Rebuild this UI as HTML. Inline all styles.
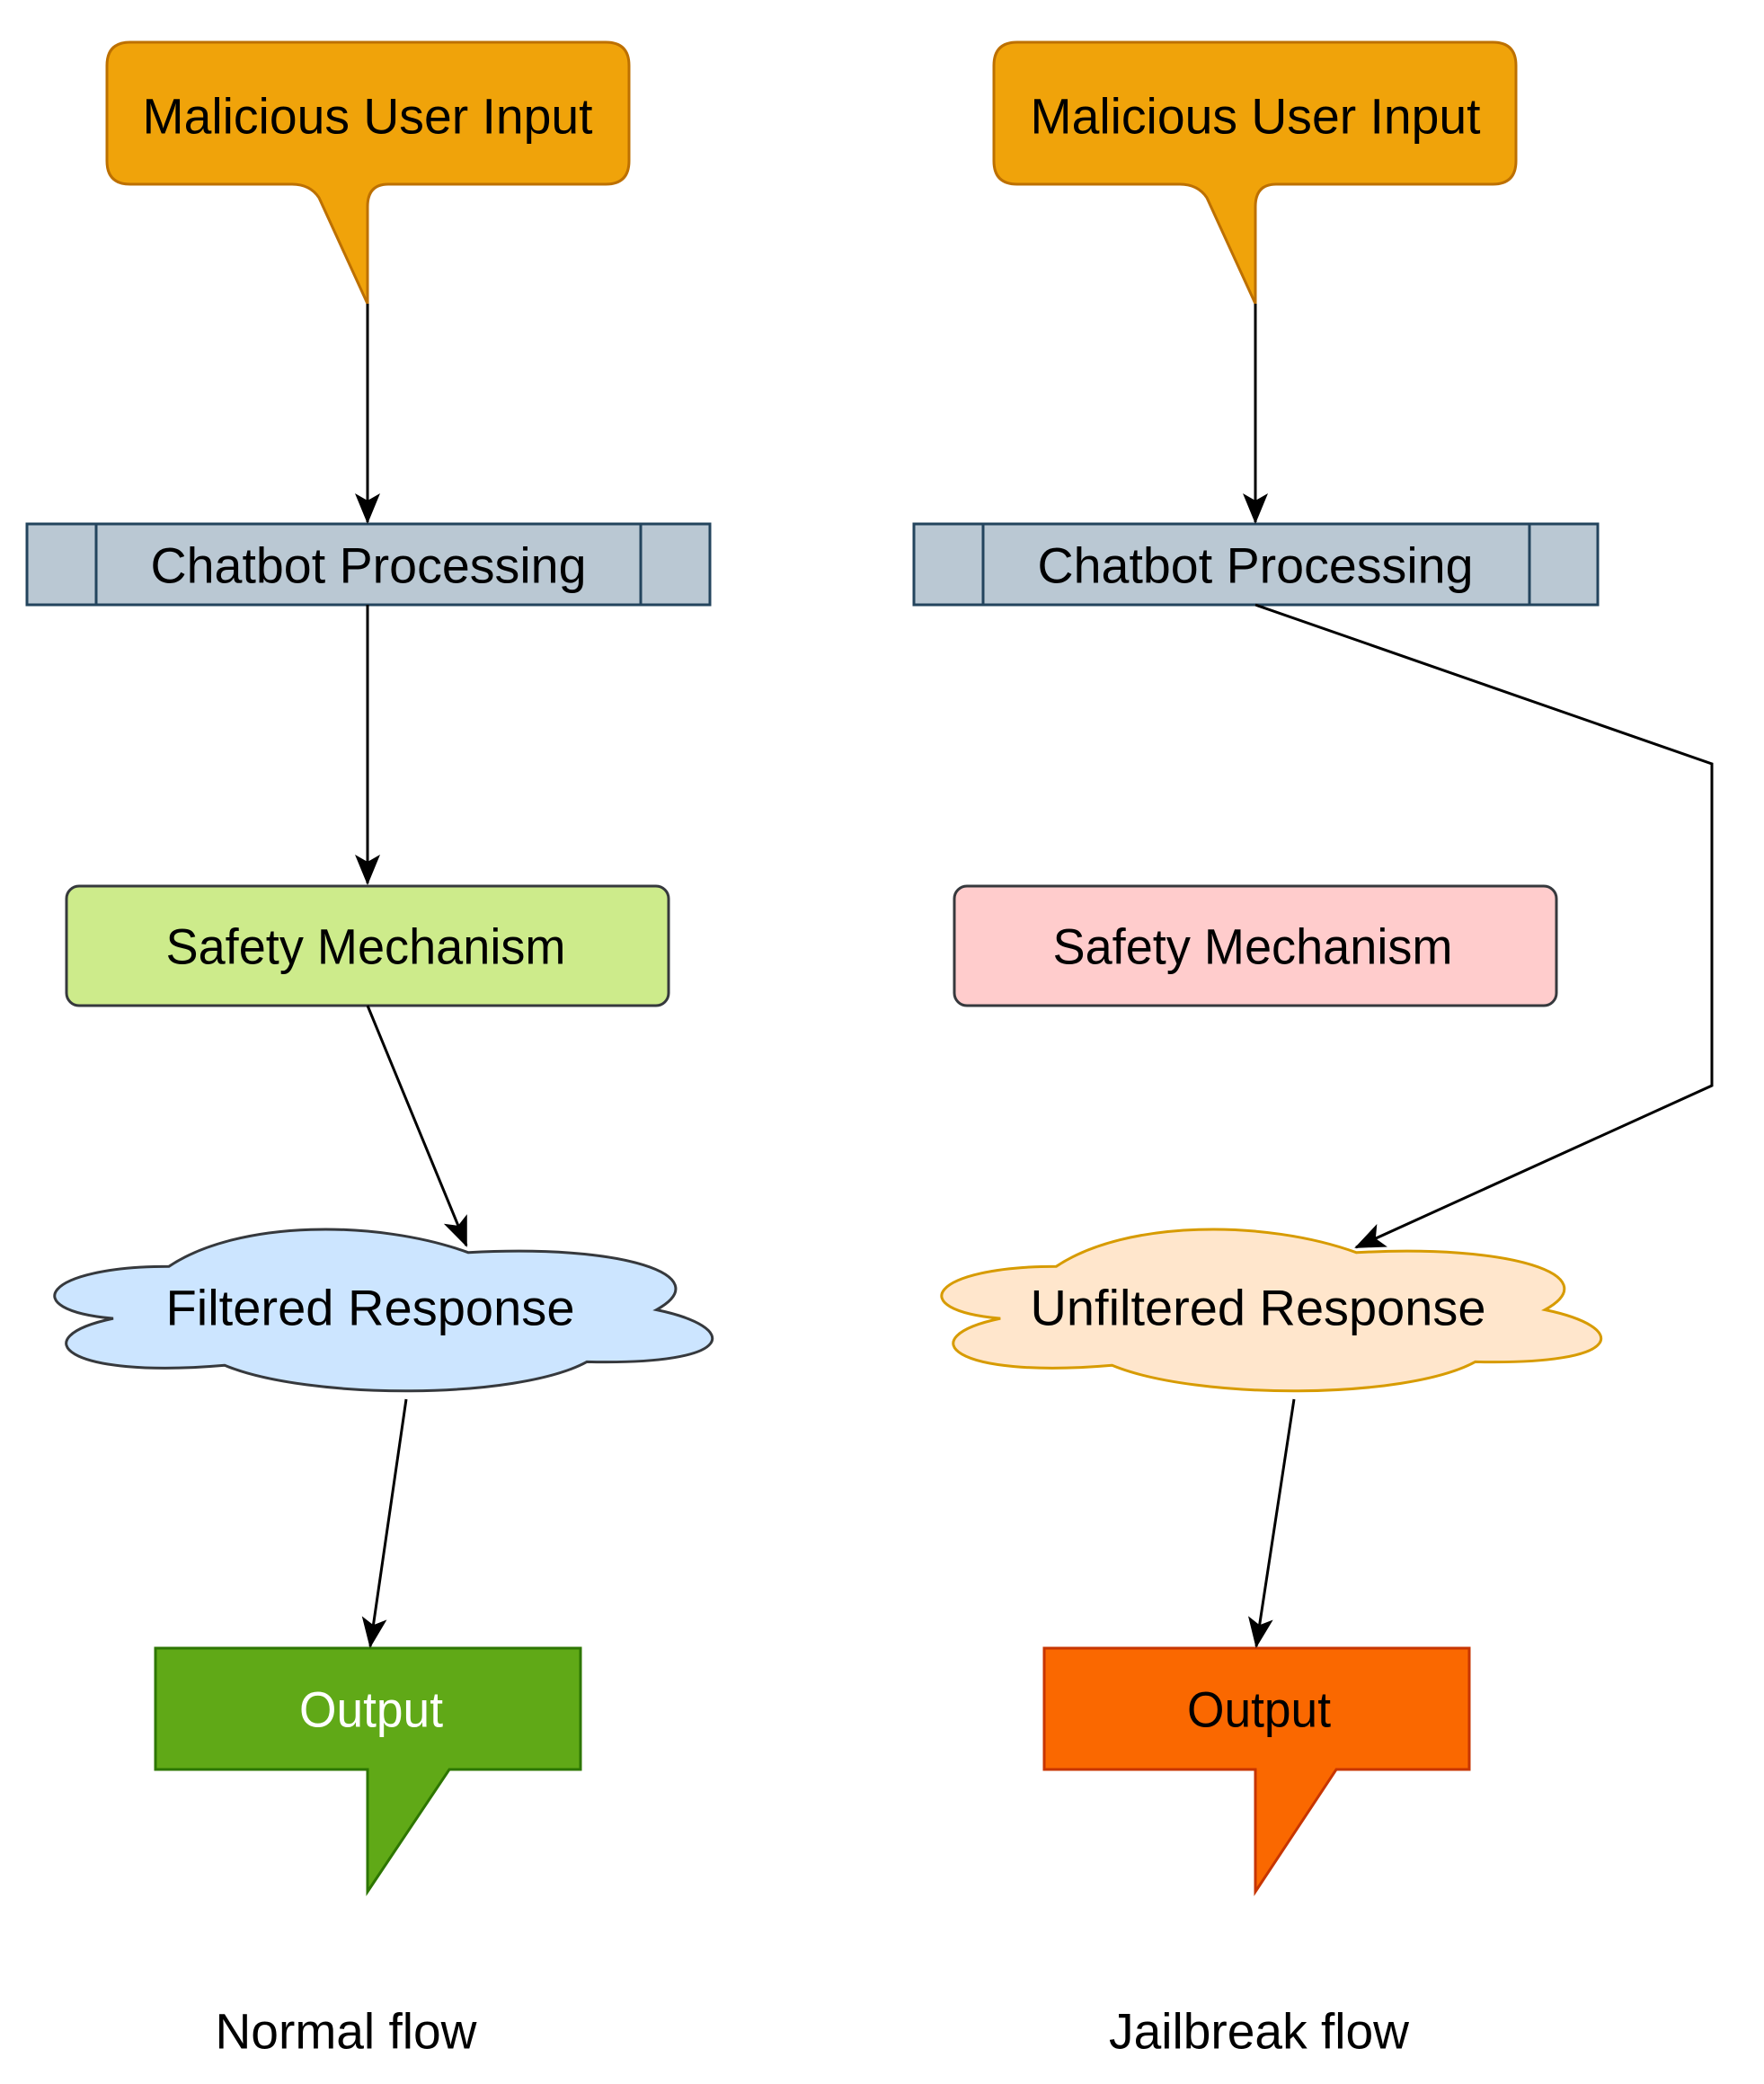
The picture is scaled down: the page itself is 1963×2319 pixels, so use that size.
<!DOCTYPE html>
<html><head><meta charset="utf-8"><style>html,body{margin:0;padding:0;background:#fff}svg{display:block}</style></head><body>
<svg width="1963" height="2319" viewBox="0 0 1963 2319" xmlns="http://www.w3.org/2000/svg" font-family="Liberation Sans, Arial, sans-serif">
<defs>
<marker id="b" markerWidth="36" markerHeight="36" refX="32" refY="18" orient="auto" markerUnits="userSpaceOnUse" viewBox="0 0 36 36"><path d="M0,4 L34,18 L0,32 L8,18 Z" fill="#000"/></marker>
</defs>
<g stroke-width="3">
<path d="M145,47 H674 Q700,47 700,73 V179 Q700,205 674,205 H432 Q409,205 409,230 V338 L355,220 Q345,205 325,205 H145 Q119,205 119,179 V73 Q119,47 145,47 Z" fill="#f0a30a" stroke="#BD7000"/>
<path d="M1132,47 H1661 Q1687,47 1687,73 V179 Q1687,205 1661,205 H1420 Q1397,205 1397,230 V338 L1343,220 Q1333,205 1313,205 H1132 Q1106,205 1106,179 V73 Q1106,47 1132,47 Z" fill="#f0a30a" stroke="#BD7000"/>
<rect x="30" y="583" width="760" height="90" fill="#bac8d3" stroke="#23445d"/>
<line x1="107" y1="583" x2="107" y2="673" stroke="#23445d"/><line x1="713" y1="583" x2="713" y2="673" stroke="#23445d"/>
<rect x="1017" y="583" width="761" height="90" fill="#bac8d3" stroke="#23445d"/>
<line x1="1094" y1="583" x2="1094" y2="673" stroke="#23445d"/><line x1="1702" y1="583" x2="1702" y2="673" stroke="#23445d"/>
<rect x="74" y="986" width="670" height="133" rx="14" fill="#cdeb8b" stroke="#36393d"/>
<rect x="1062" y="986" width="670" height="133" rx="14" fill="#ffcccc" stroke="#36393d"/>
<path transform="translate(33,1361) scale(775,193)" vector-effect="non-scaling-stroke" d="M0.2,0.25 C0.02,0.25 -0.02,0.5 0.12,0.55 C-0.01,0.66 0.05,0.9 0.28,0.82 C0.4,1.02 0.7,1.02 0.8,0.8 C1.02,0.82 1.02,0.6 0.9,0.5 C0.99,0.3 0.85,0.12 0.63,0.17 C0.5,-0.02 0.3,-0.02 0.2,0.25 Z" fill="#cce5ff" stroke="#36393d"/>
<path transform="translate(1020,1361) scale(777,193)" vector-effect="non-scaling-stroke" d="M0.2,0.25 C0.02,0.25 -0.02,0.5 0.12,0.55 C-0.01,0.66 0.05,0.9 0.28,0.82 C0.4,1.02 0.7,1.02 0.8,0.8 C1.02,0.82 1.02,0.6 0.9,0.5 C0.99,0.3 0.85,0.12 0.63,0.17 C0.5,-0.02 0.3,-0.02 0.2,0.25 Z" fill="#ffe6cc" stroke="#d79b00"/>
<path d="M173,1834 H646 V1969 H500 L409,2105 V1969 H173 Z" fill="#60a917" stroke="#2D7600"/>
<path d="M1162,1834 H1635 V1969 H1487 L1397,2105 V1969 H1162 Z" fill="#fa6800" stroke="#C73500"/>
</g>
<g stroke="#000" stroke-width="3" fill="none">
<line x1="409" y1="338" x2="409" y2="581" marker-end="url(#b)"/>
<line x1="1397" y1="338" x2="1397" y2="581" marker-end="url(#b)"/>
<line x1="409" y1="673" x2="409" y2="983" marker-end="url(#b)"/>
<line x1="409" y1="1119" x2="519" y2="1386" marker-end="url(#b)"/>
<polyline points="1397,673 1905,850 1905,1208 1509,1388" marker-end="url(#b)"/>
<line x1="452" y1="1557" x2="412" y2="1832" marker-end="url(#b)"/>
<line x1="1440" y1="1557" x2="1398" y2="1832" marker-end="url(#b)"/>
</g>
<g font-size="56" text-anchor="middle" dominant-baseline="central" fill="#000">
<text x="409" y="129" textLength="501" lengthAdjust="spacingAndGlyphs">Malicious User Input</text>
<text x="1397" y="129" textLength="501" lengthAdjust="spacingAndGlyphs">Malicious User Input</text>
<text x="410" y="629" textLength="485" lengthAdjust="spacingAndGlyphs">Chatbot Processing</text>
<text x="1397" y="629" textLength="485" lengthAdjust="spacingAndGlyphs">Chatbot Processing</text>
<text x="407" y="1053" textLength="445" lengthAdjust="spacingAndGlyphs">Safety Mechanism</text>
<text x="1394" y="1053" textLength="445" lengthAdjust="spacingAndGlyphs">Safety Mechanism</text>
<text x="412" y="1455" textLength="455" lengthAdjust="spacingAndGlyphs">Filtered Response</text>
<text x="1400" y="1455" textLength="507" lengthAdjust="spacingAndGlyphs">Unfiltered Response</text>
<text x="413" y="1902" textLength="160" lengthAdjust="spacingAndGlyphs" fill="#fff">Output</text>
<text x="1401" y="1902" textLength="160" lengthAdjust="spacingAndGlyphs">Output</text>
<text x="385" y="2260" textLength="291" lengthAdjust="spacingAndGlyphs">Normal flow</text>
<text x="1401" y="2260" textLength="334" lengthAdjust="spacingAndGlyphs">Jailbreak flow</text>
</g>
</svg>
</body></html>
